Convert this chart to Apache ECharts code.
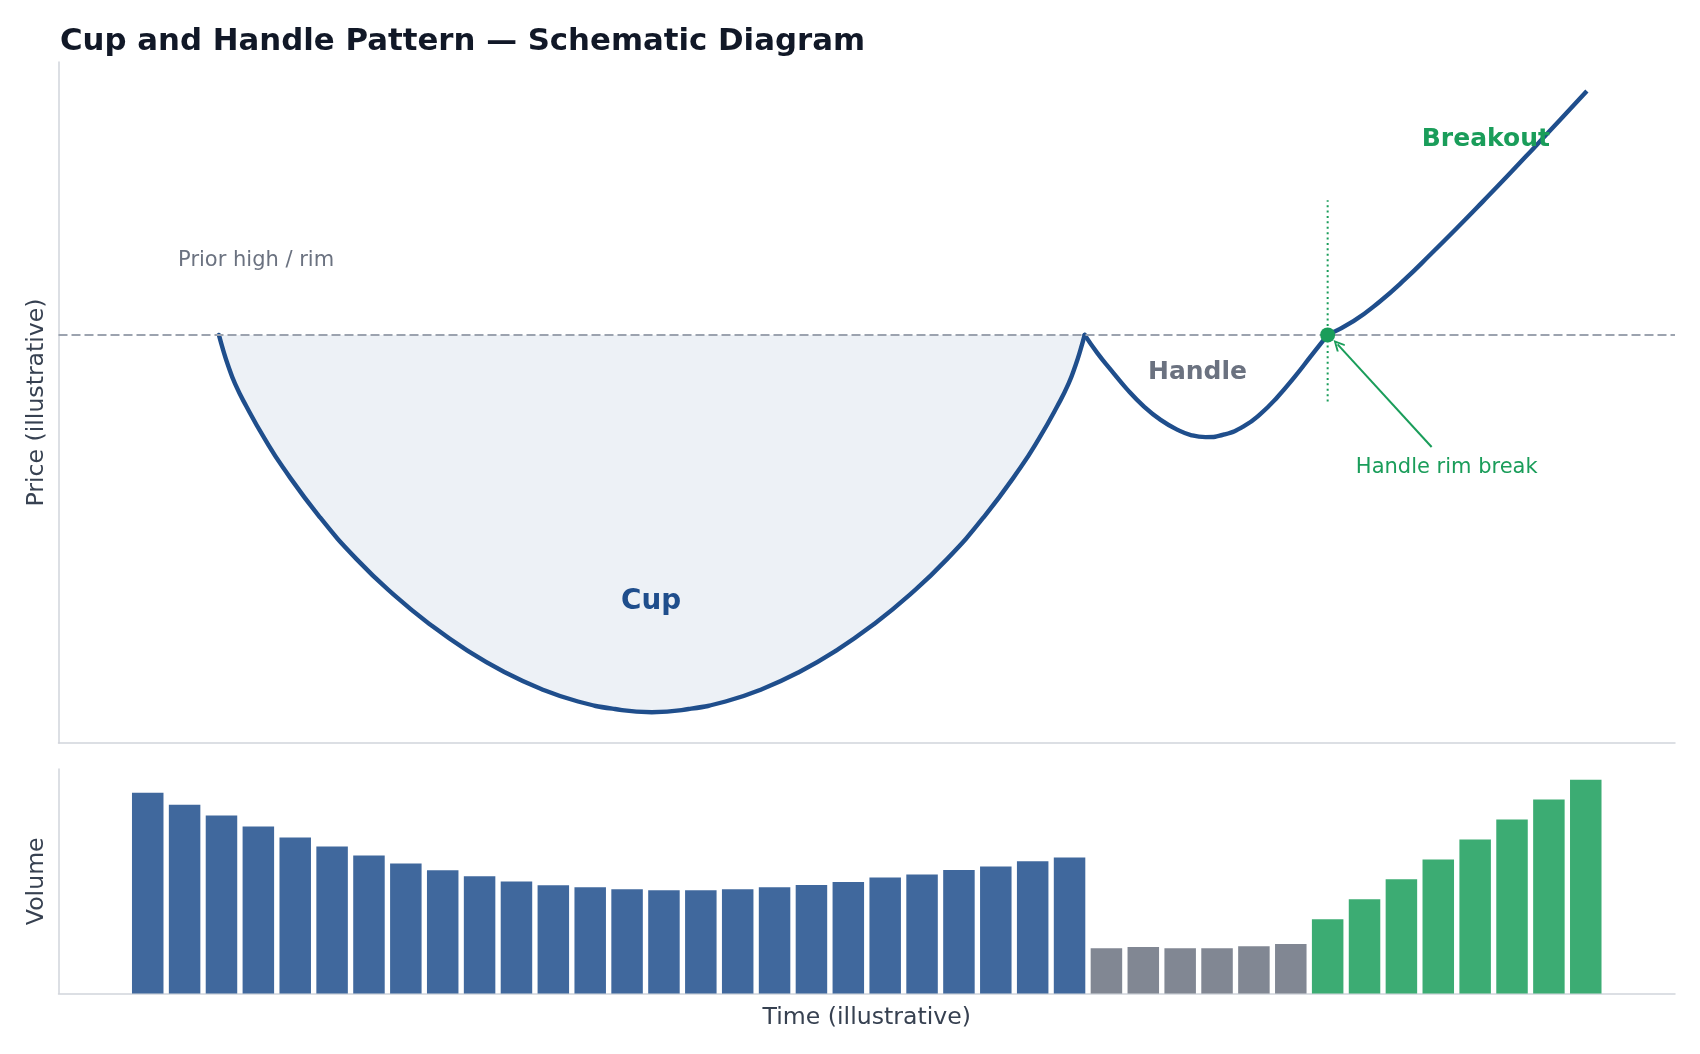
<!DOCTYPE html>
<html>
<head>
<meta charset="utf-8">
<script src="https://cdn.jsdelivr.net/npm/echarts@6/dist/echarts.min.js"></script>
<style>
html,body{margin:0;padding:0;background:#ffffff;}
#chart{width:1700px;height:1054px;}
</style>
</head>
<body>
<div id="chart"></div>
<script>
// ---------- data ----------
// x in "bar index" units (volume bar i sits at x = i)
const cupX = [1.93, 2.05, 2.17, 2.37, 2.67, 3.17, 3.67, 4.67, 5.67, 6.67, 7.67, 8.67, 9.67, 10.67, 11.67, 12.67, 13.67,
              14.67, 15.67, 16.67, 17.67, 18.67, 19.67, 20.67, 21.67, 22.67, 23.67, 24.17, 24.67, 24.97, 25.17, 25.29, 25.41];
const cupY = [100, 98.75, 97.65, 96.1, 94.35, 91.75, 89.45, 85.5, 82.15, 79.35, 76.95, 74.9, 73.2, 71.85, 70.85, 70.25, 70.0,
              70.25, 70.85, 71.85, 73.2, 74.9, 76.95, 79.35, 82.15, 85.5, 89.45, 91.75, 94.35, 96.1, 97.65, 98.75, 100];
const handleX = [25.41, 25.76, 26.12, 26.55, 27.02, 27.47, 27.93, 28.31, 28.69, 29.21, 29.73, 30.18, 30.64, 31.11, 31.54, 32.0];
const handleY = [100, 98.53, 97.22, 95.71, 94.3, 93.24, 92.45, 92.02, 91.87, 92.09, 92.74, 93.72, 95.07, 96.68, 98.29, 100];
const breakoutX = [32.0, 32.7, 33.4, 34.1, 34.8, 35.5, 36.2, 36.9, 37.6, 38.3, 39.03];
const breakoutY = [100, 101.09, 102.62, 104.43, 106.43, 108.48, 110.58, 112.71, 114.89, 117.09, 119.39];
const rimLevel = 100;
const breakPoint = [32.0, 100];
const breakLineY = [94.7, 110.7];
const arrowFrom = [34.82, 91.09];
const arrowTo = [32.27, 99.25];

const cupVolume = [93.9, 88.3, 83.2, 78.1, 73.0, 68.8, 64.6, 60.8, 57.6, 54.8, 52.4, 50.6, 49.7, 48.7, 48.3, 48.3, 48.7, 49.7, 50.7, 52.2, 54.3, 55.7, 57.8, 59.4, 61.8, 63.6];
const handleVolume = [21.2, 21.7, 21.2, 21.2, 22.1, 23.1];
const breakoutVolume = [34.7, 44.1, 53.4, 62.7, 72.0, 81.4, 90.7, 100];

const labels = {
  title: 'Cup and Handle Pattern — Schematic Diagram',
  price: 'Price (illustrative)',
  volume: 'Volume',
  time: 'Time (illustrative)',
  rim: 'Prior high / rim',
  cup: 'Cup',
  handle: 'Handle',
  breakout: 'Breakout',
  rimBreak: 'Handle rim break'
};

// ---------- styles ----------
const FONT = 'DejaVu Sans';
const BLUE = '#1f4e8c';
const GRAY = '#6b7280';
const GREEN = '#1a9d5a';
const SPINE = '#d1d5db';
const SMOOTH = 0.5;

const pairs = (xs, ys) => xs.map((x, i) => [x, ys[i]]);

const volData = [];
cupVolume.forEach(v => volData.push({ value: [volData.length, v], itemStyle: { color: BLUE, opacity: 0.85 } }));
handleVolume.forEach(v => volData.push({ value: [volData.length, v], itemStyle: { color: GRAY, opacity: 0.85 } }));
breakoutVolume.forEach(v => volData.push({ value: [volData.length, v], itemStyle: { color: GREEN, opacity: 0.85 } }));

const chevron = 'path://M5,0 L10,9 L8.6,10 L5,3.4 L1.4,10 L0,9 Z';

function axisCommon(extra) {
  return Object.assign({
    type: 'value',
    axisLine: { show: true, onZero: false, lineStyle: { color: SPINE, width: 1.5 } },
    axisTick: { show: false },
    axisLabel: { show: false },
    splitLine: { show: false }
  }, extra);
}
const nameStyle = { fontFamily: FONT, fontSize: 23.6, color: '#374151' };

function textLabel(pos, text, color, size, weight) {
  return {
    value: pos,
    label: { show: true, position: 'inside', formatter: text, color: color, fontSize: size, fontWeight: weight, fontFamily: FONT, opacity: 1 }
  };
}

const chart = echarts.init(document.getElementById('chart'), null, { renderer: 'canvas' });
chart.setOption({
  animation: false,
  backgroundColor: '#ffffff',
  title: {
    text: labels.title,
    left: 55,
    top: 21.5,
    textStyle: { fontFamily: FONT, fontSize: 30.8, fontWeight: 'bold', color: '#111827' }
  },
  grid: [
    { left: 58.5, right: 25, top: 62, height: 681 },
    { left: 58.5, right: 25, top: 769, height: 224.5 }
  ],
  xAxis: [
    axisCommon({ gridIndex: 0, min: -2.42, max: 41.42 }),
    axisCommon({ gridIndex: 1, min: -2.42, max: 41.42, name: labels.time, nameLocation: 'middle', nameGap: 12, nameTextStyle: nameStyle })
  ],
  yAxis: [
    axisCommon({ gridIndex: 0, min: 67.55, max: 121.7, name: labels.price, nameLocation: 'middle', nameGap: 10, nameTextStyle: nameStyle }),
    axisCommon({ gridIndex: 1, min: 0, max: 105, name: labels.volume, nameLocation: 'middle', nameGap: 10, nameTextStyle: nameStyle })
  ],
  series: [
    { // cup fill
      type: 'line', xAxisIndex: 0, yAxisIndex: 0, z: 1, silent: true,
      data: pairs(cupX, cupY), smooth: SMOOTH, showSymbol: false, symbol: 'none',
      lineStyle: { width: 0, opacity: 0 },
      areaStyle: { color: '#edf1f6', opacity: 1, origin: rimLevel }
    },
    { // breakout vertical dotted line + rim dashed line
      type: 'line', xAxisIndex: 0, yAxisIndex: 0, z: 2, silent: true,
      data: breakLineY.map(y => [breakPoint[0], y]), showSymbol: false, symbol: 'none',
      lineStyle: { color: GREEN, width: 2, type: [2, 3.4] },
      markLine: {
        silent: true, symbol: 'none', label: { show: false },
        lineStyle: { color: '#9ca3af', width: 2, type: [9, 4] },
        data: [{ yAxis: rimLevel }]
      }
    },
    { // cup line
      type: 'line', xAxisIndex: 0, yAxisIndex: 0, z: 3, silent: true,
      data: pairs(cupX, cupY), smooth: SMOOTH, showSymbol: false, symbol: 'none',
      lineStyle: { color: BLUE, width: 4.4, cap: 'round', join: 'round' }
    },
    { // handle line
      type: 'line', xAxisIndex: 0, yAxisIndex: 0, z: 3, silent: true,
      data: pairs(handleX, handleY), smooth: SMOOTH, showSymbol: false, symbol: 'none',
      lineStyle: { color: BLUE, width: 4.4, cap: 'round', join: 'round' }
    },
    { // breakout line
      type: 'line', xAxisIndex: 0, yAxisIndex: 0, z: 3, silent: true,
      data: pairs(breakoutX, breakoutY), smooth: SMOOTH, showSymbol: false, symbol: 'none',
      lineStyle: { color: BLUE, width: 4.4, cap: 'butt', join: 'round' }
    },
    { // breakout point + arrow
      type: 'scatter', xAxisIndex: 0, yAxisIndex: 0, z: 5, silent: true,
      data: [breakPoint], symbolSize: 15, itemStyle: { color: GREEN, opacity: 1 },
      markLine: {
        silent: true, symbol: ['none', chevron], symbolSize: [11, 12],
        label: { show: false },
        lineStyle: { color: GREEN, width: 2, type: 'solid' },
        data: [[{ coord: arrowFrom }, { coord: arrowTo }]]
      }
    },
    { // text annotations
      type: 'scatter', xAxisIndex: 0, yAxisIndex: 0, z: 6, silent: true,
      symbolSize: 1, itemStyle: { color: 'rgba(0,0,0,0)', opacity: 1 },
      data: [
        textLabel([2.94, 105.88], labels.rim, GRAY, 21, 'normal'),
        textLabel([13.65, 78.79], labels.cup, BLUE, 27.8, 'bold'),
        textLabel([28.47, 97.05], labels.handle, GRAY, 25, 'bold'),
        textLabel([36.29, 115.53], labels.breakout, GREEN, 25, 'bold'),
        textLabel([35.23, 89.49], labels.rimBreak, GREEN, 21, 'normal')
      ]
    },
    { // volume bars
      type: 'bar', xAxisIndex: 1, yAxisIndex: 1, silent: true,
      barWidth: 31.5, data: volData
    }
  ]
});
</script>
</body>
</html>
